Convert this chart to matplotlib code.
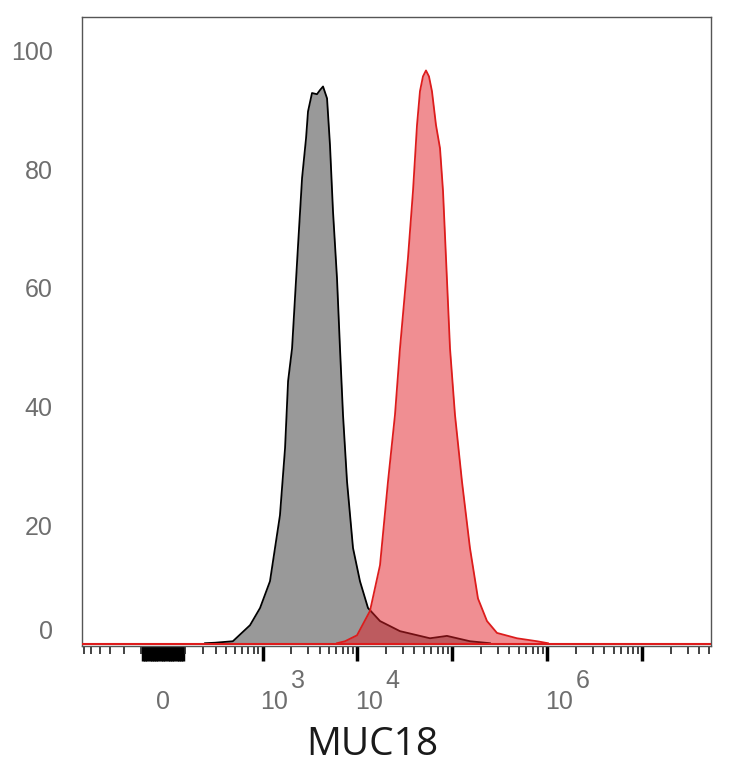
import numpy as np
import matplotlib
matplotlib.use('Agg')
import matplotlib.pyplot as plt
from matplotlib import transforms

plt.rcParams['font.family'] = ['Liberation Sans', 'DejaVu Sans']

# MUC18 intensity (biexponential axis) vs. % of max
gray_x = [217, 292, 473, 731, 938, 1197, 1528, 1730, 1863, 2052, 2375, 2618, 2884,
          3025, 3333, 3760, 4047, 4355, 4799, 5156, 5545, 6111, 6572, 7070, 7792,
          9010, 10670, 12960, 17340, 28140, 58240, 87930, 153500, 249400]
gray_y = [0.17, 0.25, 0.5, 3.2, 6.1, 10.6, 21.7, 33.0, 44.3, 49.8, 67.2, 78.5, 85.2,
          89.7, 92.8, 92.6, 93.3, 93.9, 91.9, 84.0, 72.9, 61.6, 49.8, 38.6, 27.4,
          16.2, 10.6, 6.1, 3.9, 2.2, 1.0, 1.4, 0.5, 0.17]

red_x = [6111, 7420, 9925, 13600, 17340, 21050, 24930, 28140, 34160, 38590, 42530,
         45700, 49150, 52860, 56830, 61110, 67380, 74270, 79880, 85890, 94650,
         106800, 126500, 153500, 186500, 232000, 295600, 480000, 780000, 1017000]
red_y = [0.17, 0.5, 1.5, 5.6, 13.3, 27.4, 38.6, 49.8, 65.0, 76.3, 87.4,
         93.1, 95.6, 96.6, 95.6, 93.1, 87.4, 83.5, 76.3, 65.0, 49.8,
         38.6, 27.4, 16.2, 7.7, 3.9, 1.9, 1.0, 0.5, 0.17]

y_ticks = [0, 20, 40, 60, 80, 100]
major_ticks = [0, 1e3, 1e4, 1e5, 1e6, 1e7]
labelled_exp = [3, 4, 6]

W = 180.0


def fwd(x):
    return np.arcsinh(np.asarray(x, dtype=float) / W)


def inv(y):
    return W * np.sinh(np.asarray(y, dtype=float))


fig = plt.figure(figsize=(7.34, 7.68), dpi=100)
ax = fig.add_axes([82 / 734, 1 - 646 / 768, 629 / 734, 629 / 768])
ax.set_xscale('function', functions=(fwd, inv))
ax.set_xlim(-629, 5.3e7)
ax.set_ylim(-0.3, 105.6)

ax.fill_between(gray_x, gray_y, color='#999999', lw=0, zorder=2)
ax.plot(gray_x, gray_y, color='black', lw=1.3, zorder=3)
ax.fill_between(red_x, red_y, color='#e21f26', alpha=0.5, lw=0, zorder=4)
ax.plot(red_x, red_y, color='#dd1c1c', lw=1.3, zorder=5)
ax.axhline(0, color='#dd1c1c', lw=1.5, zorder=5)

for s in ax.spines.values():
    s.set_color('#555555')
    s.set_linewidth(1.0)

# y axis
ax.set_yticks(y_ticks)
ax.set_yticklabels([str(v) for v in y_ticks])
ax.tick_params(axis='y', length=0, pad=21, labelsize=18, labelcolor='#6e6e6e')
ax.get_yticklabels()[0].set_va('bottom')

# x axis ticks: decades are major, tens around zero look heavy too
near_zero = [s * m * 10 for m in range(1, 10) for s in (1, -1)]
minor = []
for d in range(2, 8):
    for m in range(1, 10):
        for sgn in (1, -1):
            v = sgn * m * 10 ** d
            if -629 < v < 5.3e7 and v not in major_ticks:
                minor.append(v)
ax.set_xticks(major_ticks + near_zero)
ax.set_xticks(minor, minor=True)
ax.set_xticklabels([''] * (len(major_ticks) + len(near_zero)))
ax.tick_params(axis='x', which='major', length=11, width=2.5, color='black', direction='out')
ax.tick_params(axis='x', which='minor', length=6, width=1.2, color='#222222', direction='out')

tr = ax.get_xaxis_transform()
lab_kw = dict(fontsize=18, color='#6e6e6e', va='center')
ax.text(0, -0.089, '0', transform=tr, ha='center', **lab_kw)
for e in labelled_exp:
    t10 = transforms.offset_copy(tr, fig=fig, x=-1.5, units='points')
    texp = transforms.offset_copy(tr, fig=fig, x=20.5, units='points')
    ax.text(10 ** e, -0.089, '10', transform=t10, ha='left', **lab_kw)
    ax.text(10 ** e, -0.056, str(e), transform=texp, ha='left', **lab_kw)

fig.text(372 / 734, 1 - 745 / 768, 'MUC18', fontsize=28, color='#1a1a1a',
         family='Open Sans', ha='center', va='center')

fig.savefig('out.png', dpi=100)
